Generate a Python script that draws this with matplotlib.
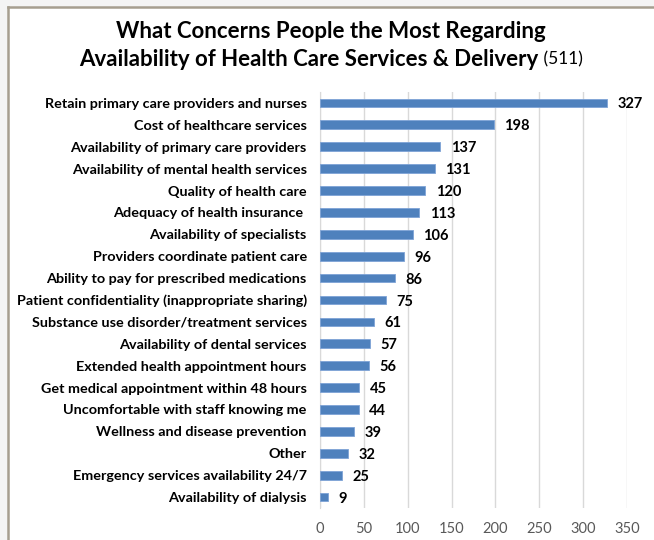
import matplotlib
matplotlib.use("Agg")
import matplotlib.pyplot as plt
from matplotlib.patches import Rectangle
from matplotlib.lines import Line2D

categories = [
    "Retain primary care providers and nurses",
    "Cost of healthcare services",
    "Availability of primary care providers",
    "Availability of mental health services",
    "Quality of health care",
    "Adequacy of health insurance ",
    "Availability of specialists",
    "Providers coordinate patient care",
    "Ability to pay for prescribed medications",
    "Patient confidentiality (inappropriate sharing)",
    "Substance use disorder/treatment services",
    "Availability of dental services",
    "Extended health appointment hours",
    "Get medical appointment within 48 hours",
    "Uncomfortable with staff knowing me",
    "Wellness and disease prevention",
    "Other",
    "Emergency services availability 24/7",
    "Availability of dialysis",
]
values = [327, 198, 137, 131, 120, 113, 106, 96, 86, 75, 61, 57, 56, 45, 44, 39, 32, 25, 9]
xticks = [0, 50, 100, 150, 200, 250, 300, 350]
title_bold_1 = "What Concerns People the Most Regarding"
title_bold_2 = "Availability of Health Care Services & Delivery"
title_note = " (511)"

W, H = 654, 540
fig = plt.figure(figsize=(W / 100, H / 100), dpi=100)
fig.patch.set_facecolor("#f4f4f4")
fig.patches.append(Rectangle((8 / W, 0), 1, 1 - 7 / H, transform=fig.transFigure,
                             facecolor="white", edgecolor="none", zorder=-10))
fig.lines.append(Line2D([8 / W, 8 / W], [0, 1 - 7 / H], transform=fig.transFigure,
                        color="#a69e8f", lw=1.8, zorder=-5))
fig.lines.append(Line2D([8 / W, 1], [1 - 7 / H, 1 - 7 / H], transform=fig.transFigure,
                        color="#a69e8f", lw=1.8, zorder=-5))

font = "Lato"
ax = fig.add_axes([320 / W, 1 - 508 / H, (627 - 320) / W, (508 - 92) / H])
ax.set_facecolor("none")
y = list(range(len(categories)))
ax.barh(y, values, height=0.4, color="#4f81bd", edgecolor="#7ea3d6", linewidth=0.6, zorder=3)
ax.set_ylim(len(categories) - 0.5, -0.5)
ax.set_xlim(0, 350)
ax.set_xticks(xticks)
ax.set_xticklabels([str(t) for t in xticks], fontfamily=font, fontsize=10.5, color="#595959")
ax.set_yticks(y)
ax.set_yticklabels(categories, fontfamily=font, fontweight="bold", fontsize=10.4, color="black")
ax.tick_params(axis="both", length=0)
ax.tick_params(axis="y", pad=9.5)
ax.tick_params(axis="x", pad=10)
ax.grid(axis="x", color="#d9d9d9", lw=1, zorder=0)
for s in ["top", "right", "bottom"]:
    ax.spines[s].set_visible(False)
ax.spines["left"].set_color("#d9d9d9")
for yi, v in zip(y, values):
    ax.annotate(str(v), (v, yi), xytext=(7.5, 0), textcoords="offset points",
                va="center_baseline", ha="left", fontfamily=font, fontweight="bold",
                fontsize=10.5, color="black")

cx = 331 / W
fig.text(cx, 1 - 32 / H, title_bold_1, ha="center", va="center", fontfamily=font,
         fontweight="bold", fontsize=16)
fig.canvas.draw()
r = fig.canvas.get_renderer()
t1 = fig.text(0, 1 - 59 / H, title_bold_2, ha="left", va="center", fontfamily=font,
              fontweight="bold", fontsize=16)
t2 = fig.text(0, 1 - 59 / H, title_note, ha="left", va="center", fontfamily=font,
              fontsize=12.5)
w1 = t1.get_window_extent(r).width
w2 = t2.get_window_extent(r).width
x0 = cx * W - (w1 + w2) / 2
t1.set_x(x0 / W)
t2.set_x((x0 + w1) / W)

fig.savefig("out.png", dpi=100)
